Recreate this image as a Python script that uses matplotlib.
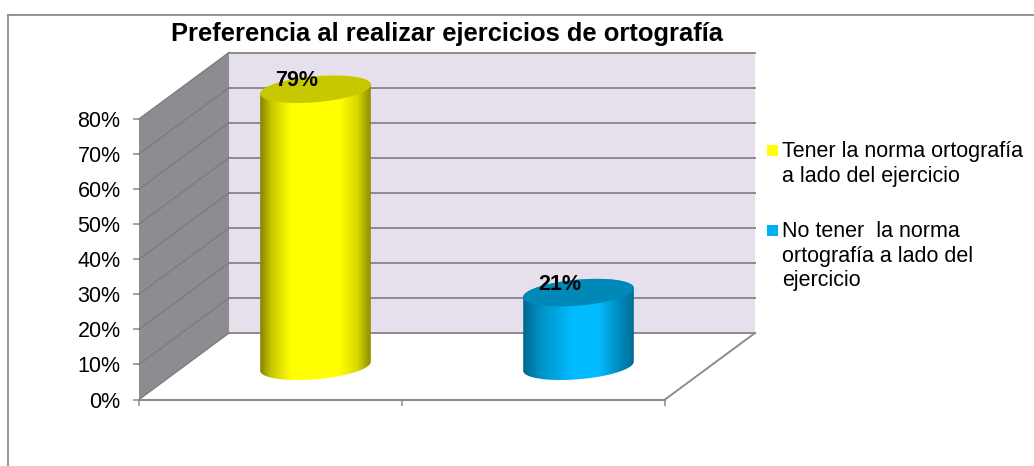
import numpy as np
import matplotlib
matplotlib.use("Agg")
import matplotlib.pyplot as plt
from matplotlib.colors import LinearSegmentedColormap
from matplotlib.patches import Polygon, Rectangle
from matplotlib.lines import Line2D

plt.rcParams["font.family"] = ["Liberation Sans", "DejaVu Sans"]

# data
title = "Preferencia al realizar ejercicios de ortografía"
categories = ["Tener la norma ortografía\na lado del ejercicio",
              "No tener  la norma\nortografía a lado del\nejercicio"]
values = [0.79, 0.21]
yticks = [0, 0.1, 0.2, 0.3, 0.4, 0.5, 0.6, 0.7, 0.8]
ytick_labels = ["0%", "10%", "20%", "30%", "40%", "50%", "60%", "70%", "80%"]

# colours
side_colors = ["#858200", "#c8c800", "#ffff00", "#ffff00", "#d8d800", "#8f8d00"]
yellow_stops = [0.0, 0.1, 0.28, 0.72, 0.88, 1.0]
blue_colors = ["#00688f", "#0090c4", "#00bcff", "#00bcff", "#0090c4", "#006c94"]
blue_stops = [0.0, 0.15, 0.45, 0.68, 0.85, 1.0]
top_colors = ["#c8c800", "#0088b8"]
legend_colors = ["#ffff00", "#00b0f0"]
grid_col = "#8c8c8c"

W, H = 1034, 466
fig = plt.figure(figsize=(W / 100, H / 100), dpi=100, facecolor="white")


def px_x(x):
    return x / W


def px_y(y):
    return 1 - y / H


# axes is the front plane of the 3d box
left, right, top, bottom = 139, 665, 119, 399.5
ax = fig.add_axes([px_x(left), px_y(bottom), (right - left) / W, (bottom - top) / H])
ax.set_facecolor("none")
XU = 2 / (right - left)   # data per pixel
YU = 0.8 / (bottom - top)
DX = 90 * XU   # depth shift
DY = 66.5 * YU

# chart frame
fig.add_artist(Line2D([px_x(7.7), 1], [px_y(15), px_y(15)], color=grid_col, lw=1.3))
fig.add_artist(Line2D([px_x(7.7), px_x(7.7)], [px_y(15), 0], color=grid_col, lw=1.3))

# walls
ax.add_patch(Polygon([(DX, DY), (2 + DX, DY), (2 + DX, 0.8 + DY), (DX, 0.8 + DY)],
                     fc="#e6e0ec", ec="none", clip_on=False, zorder=1))
ax.add_patch(Polygon([(0, 0), (DX, DY), (DX, 0.8 + DY), (0, 0.8)],
                     fc="#8f8c91", ec="none", clip_on=False, zorder=1))

# gridlines on back and side wall
for v in yticks:
    ax.plot([DX, 2 + DX], [v + DY, v + DY], color=grid_col, lw=1.4, clip_on=False, zorder=2)
    ax.plot([0, DX], [v, v + DY], color="#7d7b80", lw=1.0, clip_on=False, zorder=2)

# floor outline
ax.plot([0, 2], [0, 0], color=grid_col, lw=1.5, clip_on=False, zorder=2)
ax.plot([2, 2 + DX], [0, DY], color=grid_col, lw=1.4, clip_on=False, zorder=2)

# cylinders
half_w = 55.3 * XU
b = 13 * YU
k = 4.5 * YU
t = np.linspace(0, 2 * np.pi, 200)

for i, val in enumerate(values):
    cx = i + 0.5 + DX / 2
    cy = DY / 2
    # body outline: front half of the base ellipse, then the back of the top one
    s = np.linspace(np.pi, 2 * np.pi, 100)
    bx = cx + half_w * np.cos(s)
    by = cy + b * np.sin(s) + k * np.cos(s)
    s2 = np.linspace(0, np.pi, 100)
    tx = cx + half_w * np.cos(s2)
    ty = cy + val + b * np.sin(s2) + k * np.cos(s2)
    body = np.vstack([np.column_stack([bx, by]), np.column_stack([tx, ty])])
    poly = Polygon(body, fc="none", ec="none", transform=ax.transData)
    ax.add_patch(poly)
    if i == 0:
        cols = LinearSegmentedColormap.from_list("c", list(zip(yellow_stops, side_colors)))
    else:
        cols = LinearSegmentedColormap.from_list("c", list(zip(blue_stops, blue_colors)))
    grad = np.linspace(0, 1, 256).reshape(1, -1)
    im = ax.imshow(grad, cmap=cols, aspect="auto", zorder=3,
                   extent=[cx - half_w, cx + half_w, cy - 2 * b, cy + val + 2 * b])
    im.set_clip_path(poly)
    im.set_clip_box(fig.bbox)  # the tall bar goes above the front plane
    capx = cx + half_w * np.cos(t)
    capy = cy + val + b * np.sin(t) + k * np.cos(t)
    ax.add_patch(Polygon(np.column_stack([capx, capy]), fc=top_colors[i], ec="none",
                         clip_on=False, zorder=4))
    # data label
    ax.annotate(f"{val:.0%}", xy=(cx, cy + val), xytext=(-18.5 * 0.72, 8.5 * 0.72),
                textcoords="offset points", ha="center", va="center",
                fontsize=15.5, fontweight="bold", color="black", zorder=5,
                annotation_clip=False)

ax.set_xlim(0, 2)
ax.set_ylim(0, 0.8)
ax.set_yticks(yticks)
ax.set_yticklabels(ytick_labels, fontsize=15.5, color="black")
ax.set_xticks([0, 1, 2])
ax.set_xticklabels([])
ax.tick_params(axis="both", color=grid_col, length=4.3, width=1.1)
ax.tick_params(axis="y", pad=9)
for sp in ax.spines.values():
    sp.set_visible(False)

# title
fig.text(px_x(447), px_y(34.5), title, fontsize=18.4, fontweight="bold",
         ha="center", va="center", color="black")

# legend
legend_y = [150.7, 230.5]
for c, y0, label in zip(legend_colors, legend_y, categories):
    fig.add_artist(Rectangle((px_x(767), px_y(y0 + 5)), 11 / W, 11 / H, fc=c, ec="none",
                             transform=fig.transFigure))
    fig.text(px_x(782), px_y(y0 - 9.5), label, fontsize=15.5, ha="left", va="top",
             linespacing=1.23, color="black")

fig.savefig("out.png", dpi=100)
